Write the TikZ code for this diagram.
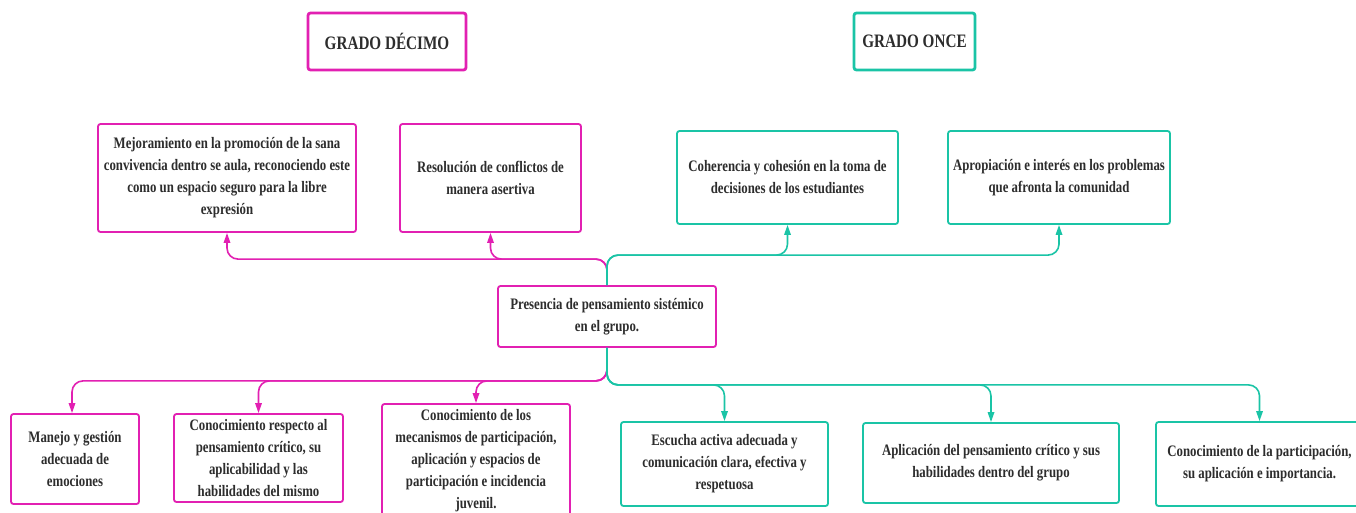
\documentclass[tikz,border=0pt]{standalone}
\usepackage{fontspec}
\setmainfont{Liberation Serif}[FakeStretch=0.8]
\usetikzlibrary{arrows.meta}
\definecolor{mg}{RGB}{226,32,178}
\definecolor{tl}{RGB}{26,196,166}
\definecolor{txt}{RGB}{45,45,45}
\begin{document}
\begin{tikzpicture}[x=1pt,y=-1pt,
  box/.style={draw, rounded corners=2.5pt, line width=1.8pt, align=center,
    inner sep=0pt, text=txt, font=\fontsize{16}{22}\selectfont\bfseries},
  head/.style={box, line width=2.8pt, font=\fontsize{19}{22}\selectfont\bfseries},
  mbox/.style={box, draw=mg}, tbox/.style={box, draw=tl},
  conn/.style={line width=1.6pt, rounded corners=11pt, -{Triangle[length=10pt,width=6.5pt]}},
  mconn/.style={conn, draw=mg}, tconn/.style={conn, draw=tl}]
\useasboundingbox[fill=white] (0,0) rectangle (1356,512);
% headers
\node[head, draw=mg, minimum width=158pt, minimum height=57pt] (gd) at (387,41.5) {GRADO DÉCIMO};
\node[head, draw=tl, minimum width=121pt, minimum height=57pt] (go) at (914.5,41.5) {GRADO ONCE};
% top boxes
\node[mbox, minimum width=258pt, minimum height=108pt] (mej) at (227,178)
  {Mejoramiento en la promoción de la sana\\convivencia dentro se aula, reconociendo este\\como un espacio seguro para la libre\\expresión};
\node[mbox, minimum width=181pt, minimum height=108pt] (res) at (490.5,178)
  {Resolución de conflictos de\\manera asertiva};
\node[tbox, minimum width=221pt, minimum height=93pt] (coh) at (787.5,177.5)
  {Coherencia y cohesión en la toma de\\decisiones de los estudiantes};
\node[tbox, minimum width=222pt, minimum height=93pt] (apr) at (1059,177.5)
  {Apropiación e interés en los problemas\\que afronta la comunidad};
% center
\node[mbox, minimum width=218pt, minimum height=61pt] (c) at (607,316.5)
  {Presencia de pensamiento sistémico\\en el grupo.};
% bottom boxes
\node[mbox, minimum width=128pt, minimum height=90pt] (man) at (75,459)
  {Manejo y gestión\\adecuada de\\emociones};
\node[mbox, minimum width=169pt, minimum height=88pt] (cre) at (258.5,458)
  {Conocimiento respecto al\\pensamiento crítico, su\\aplicabilidad y las\\habilidades del mismo};
\node[mbox, minimum width=188pt, minimum height=114pt] (cme) at (476,461)
  {Conocimiento de los\\mecanismos de participación,\\aplicación y espacios de\\participación e incidencia\\juvenil.};
\node[tbox, minimum width=207pt, minimum height=84pt] (esc) at (724.5,464)
  {Escucha activa adecuada y\\comunicación clara, efectiva y\\respetuosa};
\node[tbox, minimum width=256pt, minimum height=80pt] (apl) at (991,463)
  {Aplicación del pensamiento crítico y sus\\habilidades dentro del grupo};
\node[tbox, minimum width=207pt, minimum height=84pt] (cpa) at (1259.5,464)
  {Conocimiento de la participación,\\su aplicación e importancia.};
% connectors
\draw[mconn] (c.north) -- ++(0,-26) -| (mej.south);
\draw[mconn] (c.north) -- ++(0,-26) -| (res.south);
\draw[tconn] (c.north) -- ++(0,-30) -| (apr.south);
\draw[tconn] (c.north) -- ++(0,-30) -| (coh.south);
\draw[mconn] (c.south) -- ++(0,33) -| ([xshift=-3pt]man.north);
\draw[mconn] (c.south) -- ++(0,33) -| (cre.north);
\draw[mconn] (c.south) -- ++(0,33) -| (cme.north);
\draw[tconn] (c.south) -- ++(0,37) -| (cpa.north);
\draw[tconn] (c.south) -- ++(0,37) -| (apl.north);
\draw[tconn] (c.south) -- ++(0,37) -| (esc.north);
\end{tikzpicture}
\end{document}
